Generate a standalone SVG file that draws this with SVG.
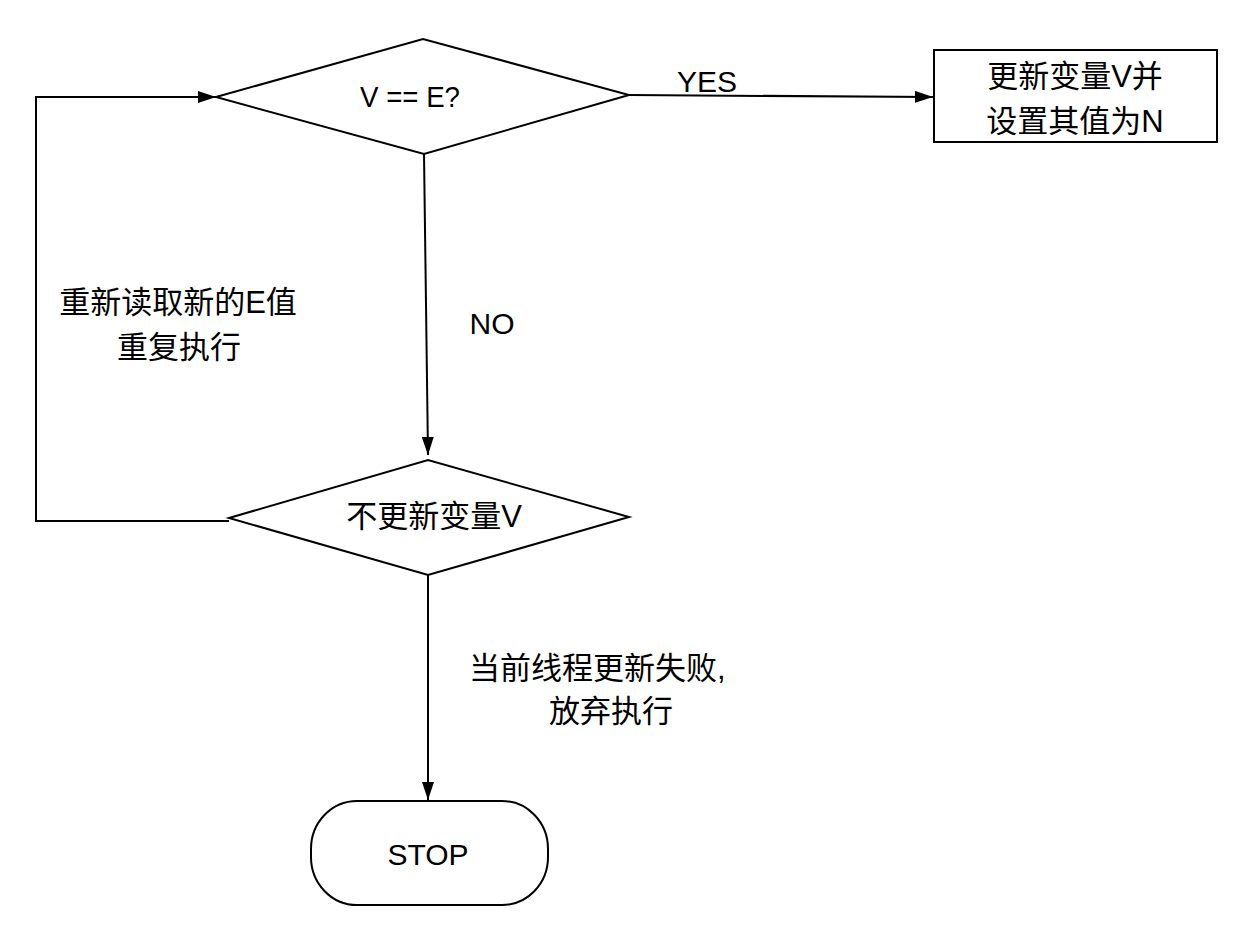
<svg xmlns="http://www.w3.org/2000/svg" width="1248" height="936" viewBox="0 0 1248 936">
<defs>
<marker id="arr" viewBox="0 0 18 12" refX="18" refY="6" markerWidth="18" markerHeight="12" markerUnits="userSpaceOnUse" orient="auto">
<path d="M0,0 L18,6 L0,12 Z" fill="#000"/>
</marker>
<style>
.shape{fill:#fff;stroke:#000;stroke-width:2}
.edge{fill:none;stroke:#000;stroke-width:2;marker-end:url(#arr)}
text{font-family:"Liberation Sans","Noto Sans CJK SC",sans-serif;font-size:30px;fill:#000}
.cjk{font-size:31px}
.c{text-anchor:middle}
</style>
</defs>
<rect width="1248" height="936" fill="#fff"/>
<g id="connectors">
<polyline class="edge" points="229,521 36,521 36,97 216,97"/>
<line class="edge" x1="629" y1="95" x2="933" y2="97"/>
<line class="edge" x1="424" y1="154" x2="428" y2="455"/>
<line class="edge" x1="428" y1="575" x2="428" y2="800"/>
</g>
<g id="labels">
<text x="707" y="92" class="c">YES</text>
<text x="492" y="334" class="c">NO</text>
<text x="178" y="313" class="c cjk">重新读取新的E值</text>
<text x="179" y="358" class="c cjk">重复执行</text>
<text x="469" y="679" class="cjk">当前线程更新失败,</text>
<text x="611" y="722" class="c cjk">放弃执行</text>
</g>
<g id="decision1">
<polygon class="shape" points="216,97 423,39 629,95 424,154"/>
<text x="410" y="107" class="c" textLength="100" lengthAdjust="spacingAndGlyphs">V == E?</text>
</g>
<g id="update">
<rect class="shape" x="934" y="50" width="283" height="92"/>
<text x="1075" y="87" class="c cjk">更新变量V并</text>
<text x="1075" y="132" class="c cjk">设置其值为N</text>
</g>
<g id="decision2">
<polygon class="shape" points="229,518 428,460 629,517 428,575"/>
<text x="434" y="527" class="c cjk">不更新变量V</text>
</g>
<g id="stop">
<rect class="shape" x="311" y="801" width="237" height="104" rx="46" ry="48"/>
<text x="428" y="865" class="c">STOP</text>
</g>
</svg>
